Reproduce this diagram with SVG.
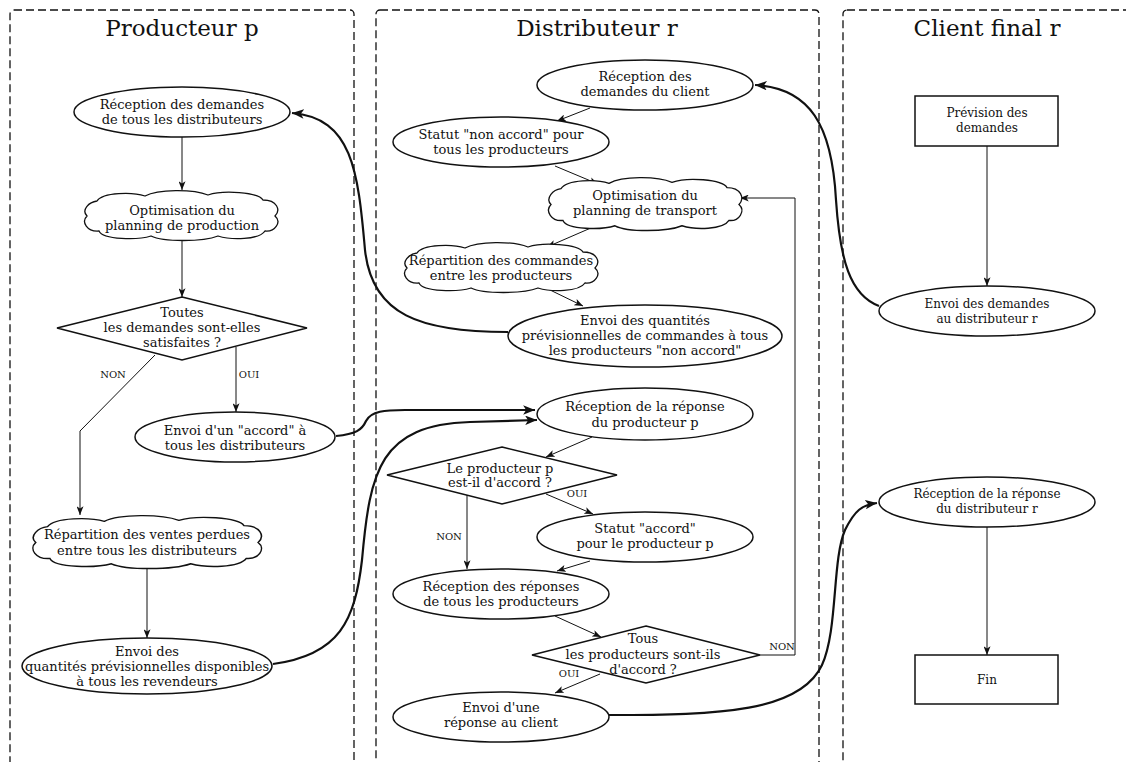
<svg xmlns="http://www.w3.org/2000/svg" width="1126" height="762" viewBox="0 0 1126 762">
<style>
text{font-family:"DejaVu Serif","Liberation Serif",serif;fill:#111;text-anchor:middle}
.t{font-size:13px}
.s{font-size:12px}
.lbl{font-size:10px}
.title{font-size:23px}
.lane{fill:none;stroke:#111;stroke-width:1.3;stroke-dasharray:8,4}
.shape{fill:#fff;stroke:#111;stroke-width:1.5}
.cloud{fill:#fff;stroke:#111;stroke-width:1.3;vector-effect:non-scaling-stroke}
.c{fill:none;stroke:#111;stroke-width:1;marker-end:url(#ah)}
.cn{fill:none;stroke:#111;stroke-width:1}
.k{fill:none;stroke:#111;stroke-width:2.2;marker-end:url(#ahk)}
.kn{fill:none;stroke:#111;stroke-width:2.2}
</style>
<defs>
<marker id="ah" viewBox="0 0 10 8" markerWidth="9" markerHeight="7" refX="10" refY="4" orient="auto" markerUnits="userSpaceOnUse">
<path d="M0,0 L10,4 L0,8 L2.5,4 z" fill="#111"/>
</marker>
<marker id="ahk" viewBox="0 0 10 8" markerWidth="12" markerHeight="9.5" refX="10" refY="4" orient="auto" markerUnits="userSpaceOnUse">
<path d="M0,0 L10,4 L0,8 L2.5,4 z" fill="#111"/>
</marker>
<path id="cloudshape" d="M4,26 C-2,20 6,12 14,11 C20,2 50,2 62,6 C75,-1 110,-1 125,5 C140,0 175,2 180,10 C194,10 198,20 192,26 C199,32 192,42 182,41 C176,50 148,50 135,46 C120,52 80,52 68,46 C55,50 20,50 16,41 C4,42 -2,32 4,26 Z"/>
</defs>

<g id="lanes">
<rect class="lane" x="10" y="10" width="344" height="800" rx="4"/>
<rect class="lane" x="376" y="10" width="443" height="800" rx="4"/>
<rect class="lane" x="843" y="10" width="300" height="800" rx="4"/>
<text class="title" x="182" y="36">Producteur p</text>
<text class="title" x="597" y="36">Distributeur r</text>
<text class="title" x="987" y="36">Client final r</text>
</g>

<g id="connectors">
<line class="c" x1="182" y1="137" x2="182" y2="190"/>
<line class="c" x1="182" y1="240" x2="182" y2="297"/>
<line class="c" x1="236" y1="347" x2="236" y2="412"/>
<polyline class="c" points="155,355 80,431 80,515"/>
<line class="c" x1="147" y1="568" x2="147" y2="638"/>
<line class="c" x1="590" y1="108" x2="557" y2="121"/>
<line class="c" x1="555" y1="166" x2="598" y2="184"/>
<line class="c" x1="600" y1="224" x2="547" y2="247"/>
<line class="c" x1="548" y1="289" x2="583" y2="306"/>
<line class="c" x1="592" y1="437" x2="546" y2="457"/>
<line class="c" x1="546" y1="494" x2="593" y2="514"/>
<line class="c" x1="467" y1="495" x2="467" y2="569"/>
<line class="c" x1="590" y1="561" x2="557" y2="571"/>
<line class="c" x1="555" y1="616" x2="601" y2="637"/>
<line class="c" x1="600" y1="674" x2="555" y2="693"/>
<polyline class="c" points="760,655 795,655 795,198 740,198"/>
<line class="c" x1="987" y1="146" x2="987" y2="286"/>
<line class="c" x1="987" y1="527" x2="987" y2="655"/>
<path class="k" d="M508,332 C420,332 372,315 365,250 C358,170 352,118 292,113"/>
<path class="k" d="M336,436 C356,434 362,430 366,421 C371,411 385,410 405,410 L535,410"/>
<path class="k" d="M273,664 C340,655 355,620 362,560 C370,470 380,425 470,422 L537,420"/>
<path class="k" d="M609,715 C720,715 800,712 822,665 C838,630 832,560 845,530 C855,510 862,505 877,503"/>
<path class="k" d="M879,306 C850,295 840,260 836,200 C832,125 810,88 755,85"/>
<text class="lbl" x="113" y="378">NON</text>
<text class="lbl" x="249" y="378">OUI</text>
<text class="lbl" x="577" y="497">OUI</text>
<text class="lbl" x="449" y="540">NON</text>
<text class="lbl" x="569" y="677">OUI</text>
<text class="lbl" x="782" y="650">NON</text>
</g>

<g id="n1"><ellipse class="shape" cx="182" cy="112" rx="108" ry="25"/><text class="t" x="182" y="109">Réception des demandes</text><text class="t" x="182" y="124">de tous les distributeurs</text></g>
<g id="n2"><use href="#cloudshape" class="cloud" transform="translate(83,190)"/><text class="t" x="182" y="215">Optimisation du</text><text class="t" x="182" y="230">planning de production</text></g>
<g id="n3"><polygon class="shape" points="182,297 307,328 182,360 57,328"/><text class="t" x="182" y="317">Toutes</text><text class="t" x="182" y="332">les demandes sont-elles</text><text class="t" x="182" y="347">satisfaites ?</text></g>
<g id="n4"><ellipse class="shape" cx="235" cy="437" rx="100" ry="25"/><text class="t" x="235" y="435">Envoi d'un "accord" à</text><text class="t" x="235" y="450">tous les distributeurs</text></g>
<g id="n5"><use href="#cloudshape" class="cloud" transform="translate(31,515) scale(1.183,1.06)"/><text class="t" x="147" y="539">Répartition des ventes perdues</text><text class="t" x="147" y="555">entre tous les distributeurs</text></g>
<g id="n6"><ellipse class="shape" cx="147" cy="666" rx="125" ry="28"/><text class="t" x="147" y="656">Envoi des</text><text class="t" x="147" y="671">quantités prévisionnelles disponibles</text><text class="t" x="147" y="686">à tous les revendeurs</text></g>

<g id="n7"><ellipse class="shape" cx="645" cy="85" rx="108" ry="25"/><text class="t" x="645" y="81">Réception des</text><text class="t" x="645" y="96">demandes du client</text></g>
<g id="n8"><ellipse class="shape" cx="501" cy="142" rx="108" ry="25"/><text class="t" x="501" y="139">Statut "non accord" pour</text><text class="t" x="501" y="154">tous les producteurs</text></g>
<g id="n9"><use href="#cloudshape" class="cloud" transform="translate(547,177) scale(1,1.06)"/><text class="t" x="645" y="200">Optimisation du</text><text class="t" x="645" y="215">planning de transport</text></g>
<g id="n10"><use href="#cloudshape" class="cloud" transform="translate(403,242)"/><text class="t" x="501" y="265">Répartition des commandes</text><text class="t" x="501" y="280">entre les producteurs</text></g>
<g id="n11"><ellipse class="shape" cx="645" cy="336" rx="137" ry="31"/><text class="t" x="645" y="325">Envoi des quantités</text><text class="t" x="645" y="340">prévisionnelles de commandes à tous</text><text class="t" x="645" y="355">les producteurs "non accord"</text></g>
<g id="n12"><ellipse class="shape" cx="645" cy="414" rx="108" ry="26"/><text class="t" x="645" y="411">Réception de la réponse</text><text class="t" x="645" y="427">du producteur p</text></g>
<g id="n13"><polygon class="shape" points="502,447 617,475 502,504 387,475"/><text class="t" x="500" y="473">Le producteur p</text><text class="t" x="500" y="487">est-il d'accord ?</text></g>
<g id="n14"><ellipse class="shape" cx="645" cy="537" rx="108" ry="25"/><text class="t" x="645" y="533">Statut "accord"</text><text class="t" x="645" y="548">pour le producteur p</text></g>
<g id="n15"><ellipse class="shape" cx="501" cy="594" rx="108" ry="25"/><text class="t" x="501" y="591">Réception des réponses</text><text class="t" x="501" y="606">de tous les producteurs</text></g>
<g id="n16"><polygon class="shape" points="646,626 760,655 646,683 532,655"/><text class="t" x="643" y="643">Tous</text><text class="t" x="643" y="659">les producteurs sont-ils</text><text class="t" x="643" y="674">d'accord ?</text></g>
<g id="n17"><ellipse class="shape" cx="501" cy="717" rx="108" ry="25"/><text class="t" x="501" y="712">Envoi d'une</text><text class="t" x="501" y="727">réponse au client</text></g>

<g id="n18"><rect class="shape" x="915" y="96" width="143" height="50"/><text class="s" x="987" y="117">Prévision des</text><text class="s" x="987" y="132">demandes</text></g>
<g id="n19"><ellipse class="shape" cx="987" cy="311" rx="108" ry="25"/><text class="s" x="987" y="308">Envoi des demandes</text><text class="s" x="987" y="323">au distributeur r</text></g>
<g id="n20"><ellipse class="shape" cx="987" cy="502" rx="108" ry="25"/><text class="s" x="987" y="498">Réception de la réponse</text><text class="s" x="987" y="513">du distributeur r</text></g>
<g id="n21"><rect class="shape" x="915" y="655" width="143" height="49"/><text class="s" x="987" y="684">Fin</text></g>
</svg>
